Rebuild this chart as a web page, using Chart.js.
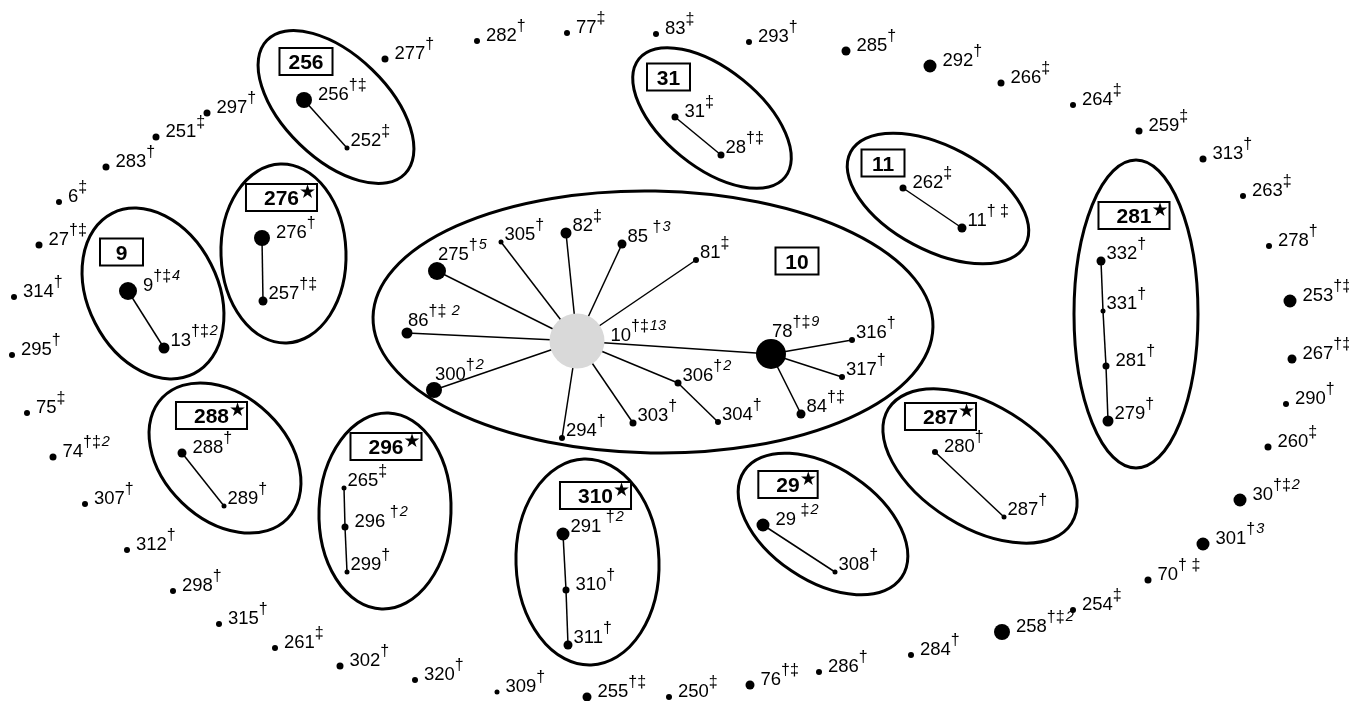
<!DOCTYPE html>
<html>
<head>
<meta charset="utf-8">
<script src="https://cdn.jsdelivr.net/npm/chart.js@4/dist/chart.umd.min.js"></script>
<style>
  html, body { margin: 0; padding: 0; background: #fff; }
  #wrap { width: 1349px; height: 701px; }
</style>
</head>
<body>
<div id="wrap"><canvas id="c" width="1349" height="701"></canvas></div>
<script>
// Sequence types (nodes) laid out in the network plane
const nodeIds = [
  '277','282','77','83','293','285','292','266','264','259','313','263','278','253','267','290','260','30','301','70',
  '254','258','284','286','76','250','255','309','320','302','261','315','298','312','307','74','75','295','314','27',
  '6','283','251','297',
  '256','252','276','257','9','13','31','28','262','11','332','331','281','279','288','289','265','296','299','291',
  '310','311','29','308','280','287',
  '10','78','275','305','82','85','81','86','300','316','317','84','306','304','303','294'
];
const nodeX = [
  385,477,567,656,749,846,930,1001,1073,1139,1203,1243,1269,1290,1292,1286,1268,1240,1203,1148,
  1073,1002,911,819,750,669,587,497,415,340,275,219,173,127,85,53,27,12,14,39,
  59,106,156,207,
  304,347,262,263,128,164,675,721,903,962,1101,1103,1106,1108,182,224,344,345,347,563,
  566,568,763,835,935,1004,
  577,771,437,501,566,622,696,407,434,852,842,801,678,718,633,562
];
const nodeY = [
  59,41,33,34,42,51,66,83,105,131,159,196,246,301,359,404,447,500,544,580,
  610,632,655,672,685,697,697,692,680,666,648,624,591,550,504,457,413,355,297,245,
  202,167,137,113,
  100,148,238,301,291,348,117,155,188,228,261,311,366,421,453,506,488,527,572,534,
  590,645,525,572,452,517,
  341,354,271,242,233,244,260,333,390,340,377,414,383,422,423,438
];
// Dot size grade (frequency class)
const nodeGrade = [
  3,2,2,2,2,4,6,3,2,3,3,2,2,6,4,2,3,6,6,3,
  2,7,2,2,4,2,4,1,2,3,2,2,2,2,2,3,2,2,2,3,
  2,3,3,3,
  7,1,7,4,8,5,3,3,3,4,4,1,3,5,4,1,1,3,1,6,
  3,4,6,1,2,1,
  10,9,8,1,5,4,2,5,7,2,2,4,3,2,3,2
];
// Superscript markers
const nodeMarks = [
  '†','†','‡','‡','†','†','†','‡','‡','‡','†','‡','†','†‡','†‡','†','‡','†‡','†','† ‡',
  '‡','†‡','†','†','†‡','‡','†‡','†','†','†','‡','†','†','†','†','†‡','‡','†','†','†‡',
  '‡','†','‡','†',
  '†‡','‡','†','†‡','†‡','†‡','‡','†‡','‡','† ‡','†','†','†','†','†','†','‡',' †','†',' †',
  '†','†',' ‡','†','†','†',
  '†‡','†‡','†','†','‡',' †','‡','†‡ ','†','†','†','†‡','†','†','†','†'
];
// Number of isolates shown next to the markers (0 = not shown)
const nodeCount = [
  0,0,0,0,0,0,0,0,0,0,0,0,0,0,0,0,0,2,3,0,
  0,2,0,0,0,0,0,0,0,0,0,0,0,0,0,2,0,0,0,0,
  0,0,0,0,
  0,0,0,0,4,2,0,0,0,0,0,0,0,0,0,0,0,2,0,2,
  0,0,2,0,0,0,
  13,9,5,0,0,3,0,2,2,0,0,0,2,0,0,0
];

// Links between sequence types
const edgeFrom = ['10','10','10','10','10','10','10','10','10','10','10','306','78','78','78',
  '256','276','9','31','262','332','331','281','288','265','296','291','310','29','280'];
const edgeTo = ['275','305','82','85','81','86','300','294','303','306','78','304','316','317','84',
  '252','257','13','28','11','331','281','279','289','296','299','310','311','308','287'];

// Clonal complexes
const clusterNames = ['10','256','276','9','31','11','281','288','296','310','29','287'];
const clusterStar = [false,false,true,false,false,false,true,true,true,true,true,true];
const ellipseX = [653,336,283.5,153,712,938,1136,225,385,587.5,823,980];
const ellipseY = [322,107,253.5,293.5,118,198.5,314,458,511,562,524,466];
const ellipseRX = [280,96,62.5,90,94,99,62,87,66,71.5,95,108];
const ellipseRY = [131,52,89.5,65,49,52,154,62,98,103,56.5,61];
const ellipseTilt = [1,44,-2,63,39,28,0,44,2,-2,34,32];
const tagX = [797,306,281.5,121.5,668.5,883,1134,211.5,386,595.5,788,940.5];
const tagY = [261,61.5,197.5,252,77,163,215.5,415.5,446.5,495.5,484.5,416.5];

const gradeRadius = [0, 2.5, 3, 3.5, 4.5, 5.5, 6.5, 8, 9, 15, 27.5];
const FONT = '"Liberation Sans", Arial, sans-serif';
const tightLabels = new Set(['28','252','265','299','289','287','308','306','304','316','317','294','311',
  '257','331','332','305','82','85','81','303','84','11','13','279','291']);
const overLabels = new Set(['78','275','86','300']);

const idx = {};
nodeIds.forEach((id, i) => { idx[id] = i; });
const pt = i => ({ x: nodeX[i], y: nodeY[i] });

const edgeSets = edgeFrom.map((f, k) => ({
  data: [pt(idx[f]), pt(idx[edgeTo[k]])],
  showLine: true,
  borderColor: '#000',
  borderWidth: 1.5,
  pointRadius: 0,
  pointHoverRadius: 0,
  clip: false,
  order: 2
}));

const nodeSet = {
  data: nodeIds.map((_, i) => pt(i)),
  pointRadius: nodeGrade.map(g => gradeRadius[g]),
  pointHoverRadius: nodeGrade.map(g => gradeRadius[g]),
  backgroundColor: nodeIds.map(id => id === '10' ? '#d9d9d9' : '#000'),
  borderWidth: 0,
  clip: false,
  order: 1
};

const clusterPlugin = {
  id: 'clusterOutlines',
  beforeDatasetsDraw(chart) {
    const { ctx, scales: { x, y } } = chart;
    ctx.save();
    ctx.strokeStyle = '#000';
    ctx.lineWidth = 3;
    clusterNames.forEach((_, i) => {
      const cx = x.getPixelForValue(ellipseX[i]);
      const cy = y.getPixelForValue(ellipseY[i]);
      const rx = Math.abs(x.getPixelForValue(ellipseX[i] + ellipseRX[i]) - cx);
      const ry = Math.abs(y.getPixelForValue(ellipseY[i] + ellipseRY[i]) - cy);
      ctx.beginPath();
      ctx.ellipse(cx, cy, rx, ry, ellipseTilt[i] * Math.PI / 180, 0, Math.PI * 2);
      ctx.stroke();
    });
    ctx.restore();
  },
  afterDatasetsDraw(chart) {
    const { ctx, scales: { x, y } } = chart;
    ctx.save();
    ctx.fillStyle = '#000';
    ctx.textBaseline = 'alphabetic';
    // node labels with superscript markers
    nodeIds.forEach((id, i) => {
      const px = x.getPixelForValue(nodeX[i]);
      const py = y.getPixelForValue(nodeY[i]);
      const r = gradeRadius[nodeGrade[i]];
      let tx, base;
      if (overLabels.has(id)) { tx = px + 1; base = py - r - 2; }
      else if (tightLabels.has(id)) { tx = px + r + 1; base = py - 2; }
      else { tx = px + r + 6; base = py; }
      ctx.font = '18.5px ' + FONT;
      ctx.fillText(id, tx, base);
      tx += ctx.measureText(id).width;
      ctx.font = '16px ' + FONT;
      ctx.fillText(nodeMarks[i], tx, base - 10);
      tx += ctx.measureText(nodeMarks[i]).width;
      if (nodeCount[i]) {
        ctx.font = 'italic 14.5px ' + FONT;
        ctx.fillText(String(nodeCount[i]), tx + 1, base - 11);
      }
    });
    // clonal complex tags
    clusterNames.forEach((name, i) => {
      const cx = x.getPixelForValue(tagX[i]);
      const cy = y.getPixelForValue(tagY[i]);
      ctx.font = 'bold 21px ' + FONT;
      const tw = ctx.measureText(name).width;
      const w = clusterStar[i] ? tw + 36 : Math.max(tw + 18, 43);
      const h = 27;
      ctx.fillStyle = '#fff';
      ctx.fillRect(cx - w / 2, cy - h / 2, w, h);
      ctx.lineWidth = 2;
      ctx.strokeStyle = '#000';
      ctx.strokeRect(cx - w / 2, cy - h / 2, w, h);
      ctx.fillStyle = '#000';
      const base = cy + 7.5;
      ctx.fillText(name, cx - tw / 2, base);
      if (clusterStar[i]) {
        ctx.font = '19px "DejaVu Sans", sans-serif';
        ctx.fillText('★', cx + tw / 2, base - 7);
      }
    });
    ctx.restore();
  }
};

new Chart(document.getElementById('c'), {
  type: 'scatter',
  data: { datasets: [nodeSet, ...edgeSets] },
  options: {
    responsive: false,
    animation: false,
    events: [],
    layout: { padding: 0, autoPadding: false },
    scales: {
      x: { type: 'linear', min: 0, max: 1349, display: false },
      y: { type: 'linear', min: 0, max: 701, reverse: true, display: false }
    },
    plugins: { legend: { display: false }, tooltip: { enabled: false } }
  },
  plugins: [clusterPlugin]
});
</script>
</body>
</html>
